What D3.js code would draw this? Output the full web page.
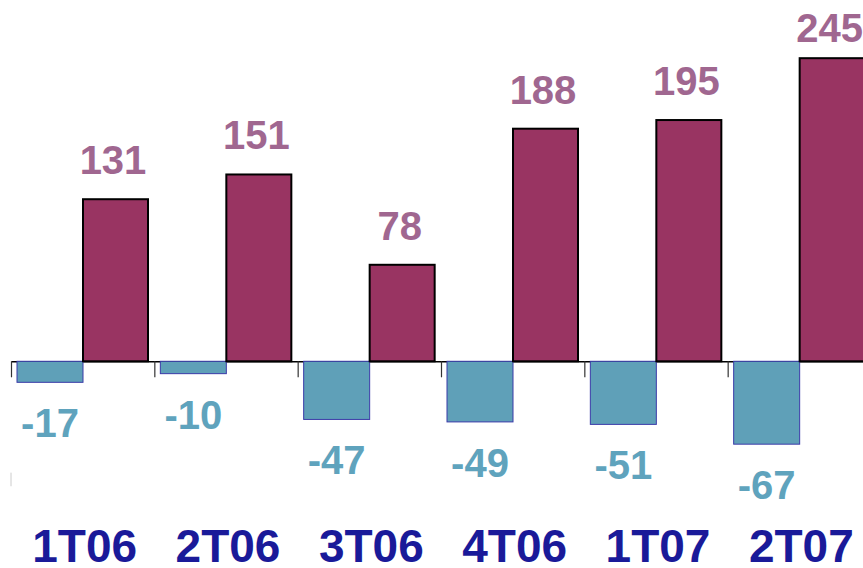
<!DOCTYPE html>
<html>
<head>
<meta charset="utf-8">
<script src="https://cdn.jsdelivr.net/npm/d3@7"></script>
<style>
  body { margin: 0; background: #fff; }
  text { font-family: "Liberation Sans", Arial, sans-serif; font-weight: bold; }
</style>
</head>
<body>
<div id="chart"></div>
<script>
// chart data
var quarters = ["1T06", "2T06", "3T06", "4T06", "1T07", "2T07"];
var positives = [131, 151, 78, 188, 195, 245];
var negatives = [-17, -10, -47, -49, -51, -67];

var width = 863, height = 568;

var svg = d3.select("#chart").append("svg")
    .attr("width", width)
    .attr("height", height);

// scales
var x = d3.scaleBand()
    .domain(quarters)
    .range([11, 871])
    .paddingInner(0);

var xInner = d3.scaleBand()
    .domain(["neg", "pos"])
    .range([6, 138]);

var y = d3.scaleLinear()
    .domain([-100, 250])
    .range([485, 52]);

// axis along zero line, ticks at category boundaries
var xb = d3.scaleLinear().domain([0, quarters.length]).range(x.range());
var axis = svg.append("g")
    .attr("transform", "translate(0," + y(0) + ")")
    .call(d3.axisBottom(xb)
        .tickValues(d3.range(0, quarters.length))
        .tickSize(16)
        .tickSizeOuter(0)
        .tickFormat(""));
axis.select(".domain").attr("stroke", "#000").attr("stroke-width", 1.5);
axis.selectAll(".tick line").attr("stroke", "#333").attr("stroke-width", 1.2);

// faint left stub
svg.append("line")
    .attr("x1", 11).attr("x2", 11)
    .attr("y1", y(-90)).attr("y2", y(-101))
    .attr("stroke", "#ccc").attr("stroke-width", 1);

var groups = svg.selectAll(".grp")
    .data(quarters)
  .enter().append("g")
    .attr("class", "grp")
    .attr("transform", function(d) { return "translate(" + x(d) + ",0)"; });

// negative bars
groups.append("rect")
    .attr("x", xInner("neg"))
    .attr("width", xInner.bandwidth())
    .attr("y", y(0))
    .attr("height", function(d, i) { return y(negatives[i]) - y(0); })
    .attr("fill", "#5fa0b8")
    .attr("stroke", "#3a3aa8")
    .attr("stroke-width", 1);

// positive bars
groups.append("rect")
    .attr("x", xInner("pos"))
    .attr("width", xInner.bandwidth() - 1)
    .attr("y", function(d, i) { return y(positives[i]); })
    .attr("height", function(d, i) { return y(0) - y(positives[i]); })
    .attr("fill", "#993462")
    .attr("stroke", "#000")
    .attr("stroke-width", 2);

// value labels
groups.append("text")
    .attr("x", xInner("pos") + xInner.bandwidth() / 2 - 3)
    .attr("y", function(d, i) { return Math.max(y(positives[i]) - 25, 42); })
    .attr("text-anchor", "middle")
    .attr("font-size", 40)
    .attr("fill", "#a06790")
    .text(function(d, i) { return positives[i]; });

groups.append("text")
    .attr("x", xInner("neg") + xInner.bandwidth() / 2)
    .attr("y", function(d, i) { return y(negatives[i]) + 55; })
    .attr("text-anchor", "middle")
    .attr("font-size", 40)
    .attr("fill", "#5fa3bd")
    .text(function(d, i) { return negatives[i]; });

// category labels
groups.append("text")
    .attr("x", x.bandwidth() / 2 + 2)
    .attr("y", 562)
    .attr("text-anchor", "middle")
    .attr("font-size", 46)
    .attr("fill", "#1a1a99")
    .text(function(d) { return d; });
</script>
</body>
</html>
